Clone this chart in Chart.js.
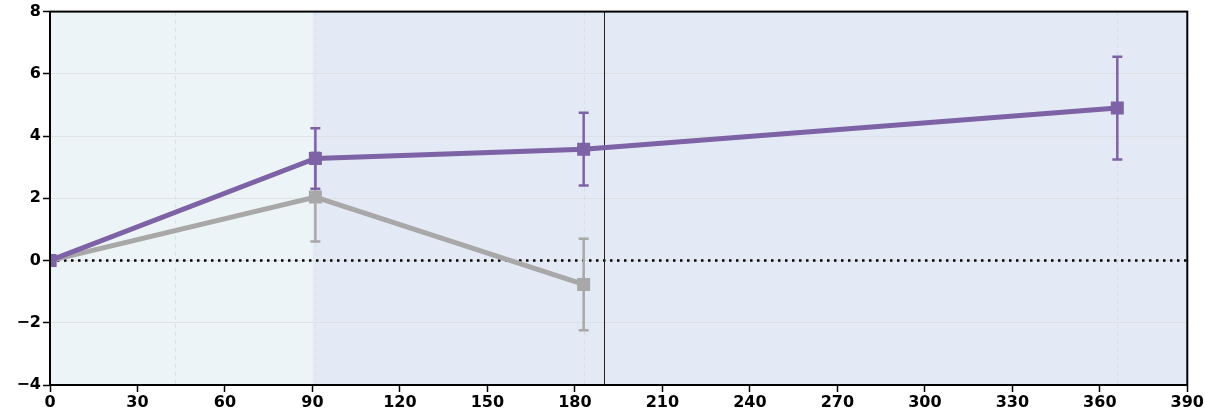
<!DOCTYPE html>
<html>
<head>
<meta charset="utf-8">
<script src="https://cdn.jsdelivr.net/npm/chart.js@4/dist/chart.umd.min.js"></script>
<style>
  html, body { margin: 0; padding: 0; background: #fff; }
  #wrap { width: 1205px; height: 417px; }
</style>
</head>
<body>
<div id="wrap"><canvas id="grafico"></canvas></div>
<script>
const diasRoxo = [0, 91, 183, 366];
const valoresRoxo = [0, 3.28, 3.58, 4.9];
const errosRoxo = [0, 0.97, 1.17, 1.65];

const diasCinza = [0, 91, 183];
const valoresCinza = [0, 2.04, -0.77];
const errosCinza = [0, 1.43, 1.47];

const gradeX = [43, 91, 183, 366];
const faixas = [[0, 90, '#ecf4f7'], [90, 390, '#e3eaf6']];
const linhaVertical = 190;

const roxo = '#7d62a6';
const cinza = '#a8a8a8';

const pontos = (xs, ys, es) => xs.map((x, i) => ({ x: x, y: ys[i], e: es[i] }));

const fundo = {
  id: 'fundo',
  beforeDraw(chart) {
    const { ctx, chartArea: a, scales: { x, y } } = chart;
    ctx.save();
    faixas.forEach(f => {
      ctx.fillStyle = f[2];
      ctx.fillRect(x.getPixelForValue(f[0]), a.top, x.getPixelForValue(f[1]) - x.getPixelForValue(f[0]), a.bottom - a.top);
    });
    ctx.strokeStyle = 'rgba(210,210,210,0.6)';
    ctx.lineWidth = 1;
    ctx.setLineDash([4, 4]);
    gradeX.forEach(v => {
      const px = Math.round(x.getPixelForValue(v)) + 0.5;
      ctx.beginPath();
      ctx.moveTo(px, a.top);
      ctx.lineTo(px, a.bottom);
      ctx.stroke();
    });
    ctx.restore();
  },
  beforeDatasetsDraw(chart) {
    const { ctx, chartArea: a, scales: { x, y } } = chart;
    ctx.save();
    // linha pontilhada em zero
    ctx.strokeStyle = '#000';
    ctx.lineWidth = 2.5;
    ctx.setLineDash([2.5, 4.5]);
    const py = y.getPixelForValue(0);
    ctx.beginPath();
    ctx.moveTo(a.left, py);
    ctx.lineTo(a.right, py);
    ctx.stroke();
    ctx.setLineDash([]);
    ctx.lineWidth = 1;
    ctx.strokeStyle = '#222';
    const px = Math.round(x.getPixelForValue(linhaVertical)) + 0.5;
    ctx.beginPath();
    ctx.moveTo(px, a.top);
    ctx.lineTo(px, a.bottom);
    ctx.stroke();
    ctx.restore();
  },
  // barras de erro de cada serie, desenhadas antes da linha dela
  beforeDatasetDraw(chart, args) {
    const { ctx, scales: { x, y } } = chart;
    const ds = chart.data.datasets[args.index];
    ctx.save();
    ctx.strokeStyle = ds.borderColor;
    ctx.lineWidth = 2.5;
    ds.data.forEach(p => {
      if (!p.e) return;
      const cx = x.getPixelForValue(p.x);
      const t = y.getPixelForValue(p.y + p.e);
      const b = y.getPixelForValue(p.y - p.e);
      ctx.beginPath();
      ctx.moveTo(cx, t); ctx.lineTo(cx, b);
      ctx.moveTo(cx - 5, t); ctx.lineTo(cx + 5, t);
      ctx.moveTo(cx - 5, b); ctx.lineTo(cx + 5, b);
      ctx.stroke();
    });
    ctx.restore();
  },
  afterDraw(chart) {
    const { ctx, chartArea: a } = chart;
    ctx.save();
    ctx.strokeStyle = '#000';
    ctx.lineWidth = 2;
    ctx.strokeRect(a.left, a.top, a.right - a.left, a.bottom - a.top);
    ctx.restore();
  }
};

const fonte = { family: 'DejaVu Sans', size: 16, weight: 'bold' };

new Chart(document.getElementById('grafico'), {
  type: 'line',
  data: {
    datasets: [
      {
        label: 'roxo',
        data: pontos(diasRoxo, valoresRoxo, errosRoxo),
        borderColor: roxo,
        backgroundColor: roxo,
        borderWidth: 5,
        pointStyle: 'rect',
        pointRadius: 9.2,
        pointBorderWidth: 0,
        order: 1
      },
      {
        label: 'cinza',
        data: pontos(diasCinza, valoresCinza, errosCinza),
        borderColor: cinza,
        backgroundColor: cinza,
        borderWidth: 5,
        pointStyle: 'rect',
        pointRadius: 9.2,
        pointBorderWidth: 0,
        order: 2
      }
    ]
  },
  options: {
    responsive: true,
    maintainAspectRatio: false,
    animation: false,
    layout: { padding: { left: 0, right: 17, top: 9, bottom: 0 } },
    plugins: { legend: { display: false }, tooltip: { enabled: false } },
    scales: {
      x: {
        type: 'linear',
        min: 0,
        max: 390,
        afterFit: s => { s.height = 32; },
        ticks: {
          stepSize: 30,
          color: '#000',
          font: fonte,
          padding: 1,
          maxRotation: 0
        },
        grid: { drawOnChartArea: false, tickLength: 7, tickColor: '#000', tickWidth: 1.5 },
        border: { color: '#000', width: 2 }
      },
      y: {
        min: -4,
        max: 8,
        afterFit: s => { s.width = 50; },
        ticks: {
          stepSize: 2,
          color: '#000',
          font: fonte,
          padding: 2,
          callback: v => String(v).replace('-', '\u2212')
        },
        grid: {
          color: 'rgba(215,215,215,0.6)',
          lineWidth: 1,
          tickLength: 7,
          tickColor: '#000',
          tickWidth: 1.5,
          tickBorderDash: [],
          borderDash: [4, 4]
        },
        border: { color: '#000', width: 2, dash: [] }
      }
    }
  },
  plugins: [fundo]
});
</script>
</body>
</html>
